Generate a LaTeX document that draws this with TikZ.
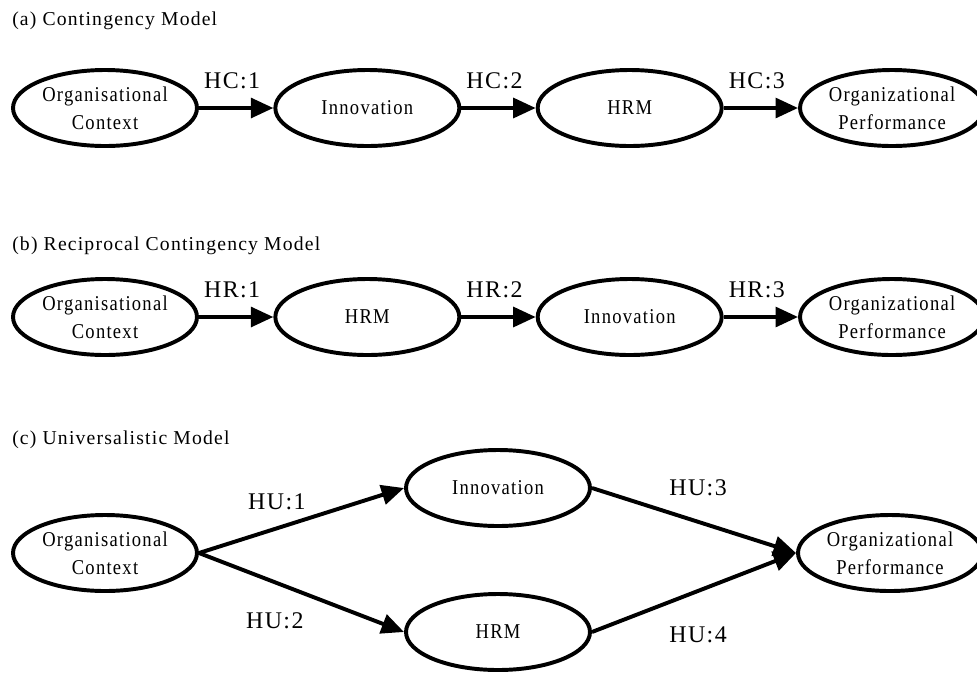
\documentclass[tikz,border=0pt]{standalone}
\usepackage{fontspec}
\setmainfont{Liberation Serif}
\newfontfamily\spacedfont[LetterSpace=6]{Liberation Serif}
\newfontfamily\narrowfont[FakeStretch=0.88,LetterSpace=6]{Liberation Serif}
\usetikzlibrary{arrows.meta,positioning,shapes.geometric}

\begin{document}
\begin{tikzpicture}[
    x=0.25mm, y=-0.25mm,
    node distance=18.6mm,
    model/.style={ellipse, draw, line width=2.8pt, minimum width=46mm, minimum height=19mm, inner xsep=-6pt, inner ysep=0pt, align=center, font=\narrowfont\fontsize{15}{20}\selectfont},
    heading/.style={anchor=west, inner sep=0pt, font=\spacedfont\fontsize{14}{17}\selectfont},
    link/.style={-{Triangle[length=16pt,width=14pt]}, line width=2.8pt},
    tag/.style={inner sep=0pt, font=\spacedfont\fontsize{17}{20}\selectfont}
]
\useasboundingbox (0,0) rectangle (977,675);

% (a) Contingency Model
\node[heading] (ttlA) at (12,21) {(a) Contingency Model};
\node[model] (ctxA) at (105,108) {Organisational\\Context};
\node[model, right=of ctxA] (innA) {Innovation};
\node[model, right=of innA] (hrmA) {HRM};
\node[model, right=of hrmA] (perfA) {Organizational\\Performance};

\draw[link] (ctxA) -- node[tag, midway, above=4.25mm, xshift=-1mm] {HC:1} (innA);
\draw[link] (innA) -- node[tag, midway, above=4.25mm, xshift=-1mm] {HC:2} (hrmA);
\draw[link] (hrmA) -- node[tag, midway, above=4.25mm, xshift=-1mm] {HC:3} (perfA);

% (b) Reciprocal Contingency Model
\node[heading] (ttlB) at (12,246) {(b) Reciprocal Contingency Model};
\node[model] (ctxB) at (105,317) {Organisational\\Context};
\node[model, right=of ctxB] (hrmB) {HRM};
\node[model, right=of hrmB] (innB) {Innovation};
\node[model, right=of innB] (perfB) {Organizational\\Performance};

\draw[link] (ctxB) -- node[tag, midway, above=4.25mm, xshift=-1mm] {HR:1} (hrmB);
\draw[link] (hrmB) -- node[tag, midway, above=4.25mm, xshift=-1mm] {HR:2} (innB);
\draw[link] (innB) -- node[tag, midway, above=4.25mm, xshift=-1mm] {HR:3} (perfB);

% (c) Universalistic Model
\node[heading] (ttlC) at (12,440) {(c) Universalistic Model};
\node[model] (ctxC) at (105,553) {Organisational\\Context};
\node[model] (innC) at (498,488) {Innovation};
\node[model] (hrmC) at (498,632) {HRM};
\node[model] (perfC) at (890,553) {Organizational\\Performance};

\draw[link] (ctxC.east) -- node[tag, pos=0.38, above=4.25mm] {HU:1} (innC.west);
\draw[link] (ctxC.east) -- node[tag, pos=0.37, below=7mm] {HU:2} (hrmC.west);
\draw[link] (innC.east) -- node[tag, pos=0.52, above=6mm] {HU:3} (perfC.west);
\draw[link] (hrmC.east) -- node[tag, pos=0.52, below=8.5mm] {HU:4} (perfC.west);

\end{tikzpicture}
\end{document}
